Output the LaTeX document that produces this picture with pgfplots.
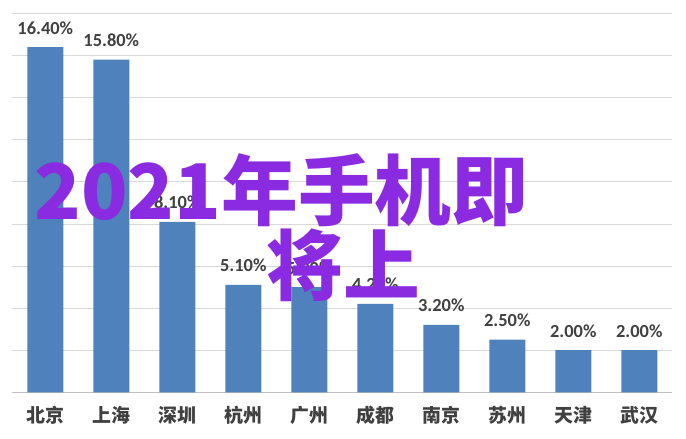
\documentclass[border=0pt]{standalone}
\usepackage{fontspec}
\setmainfont{Carlito}
\newfontfamily\cjk{Noto Sans CJK SC}
\usepackage{pgfplots}
\usepackage{pgfplotstable}
\pgfplotsset{compat=1.18}

\definecolor{barblue}{HTML}{4F81BD}
\definecolor{gridgray}{HTML}{D9D9D9}
\definecolor{axisgray}{HTML}{BFBFBF}
\definecolor{labelgray}{HTML}{404040}
\definecolor{overlay}{HTML}{8A2BE2}

% growth share by city (%)
\pgfplotstableread{
idx val
0 16.40
1 15.80
2 8.10
3 5.10
4 5.00
5 4.20
6 3.20
7 2.50
8 2.00
9 2.00
}\citydata

\begin{document}
\begin{tikzpicture}
  \path[use as bounding box] (-12.3bp,-46.7bp) rectangle (673.7bp,392.3bp);
  \begin{axis}[
      at={(0,0)}, anchor=south west,
      scale only axis,
      width=660bp, height=378.9bp,
      xmin=-0.5, xmax=9.5,
      ymin=0, ymax=18,
      clip=false,
      axis x line*=bottom,
      axis y line*=left,
      x axis line style={draw=axisgray, -},
      y axis line style={draw=none},
      ytick={0,2,...,18},
      yticklabels={},
      ytick style={draw=none},
      ymajorgrids,
      major grid style={draw=gridgray, line width=0.8pt},
      xtick={0,...,9},
      xticklabels={北京,上海,深圳,杭州,广州,成都,南京,苏州,天津,武汉},
      xtick style={draw=none},
      xticklabel style={font=\cjk\bfseries\fontsize{19}{20}\selectfont,
                        text=labelgray, anchor=base, yshift=-30bp},
      extra x ticks={-0.5,0.5,...,9.5},
      extra x tick labels={},
      extra x tick style={grid=none, tick align=outside,
                          major tick length=7bp,
                          tick style={draw=axisgray}},
    ]
    \addplot[ybar, bar width=36bp, fill=barblue, draw=none,
             nodes near coords={\pgfmathprintnumber[fixed,fixed zerofill,precision=2,assume math mode=true]{\pgfplotspointmeta}\%},
             nodes near coords style={font=\bfseries\fontsize{18.5}{20}\selectfont,
                                      text=labelgray, anchor=base, yshift=13bp}]
      table[x=idx, y=val] {\citydata};
  \end{axis}
  \node[anchor=base west, text=overlay, inner sep=0pt,
        font=\cjk\bfseries\fontsize{77}{80}\selectfont] at (22bp,172.3bp) {2021年手机即};
  \node[anchor=base, text=overlay, inner sep=0pt,
        font=\cjk\bfseries\fontsize{77}{80}\selectfont] at (330.7bp,97.3bp) {将上};
\end{tikzpicture}
\end{document}
